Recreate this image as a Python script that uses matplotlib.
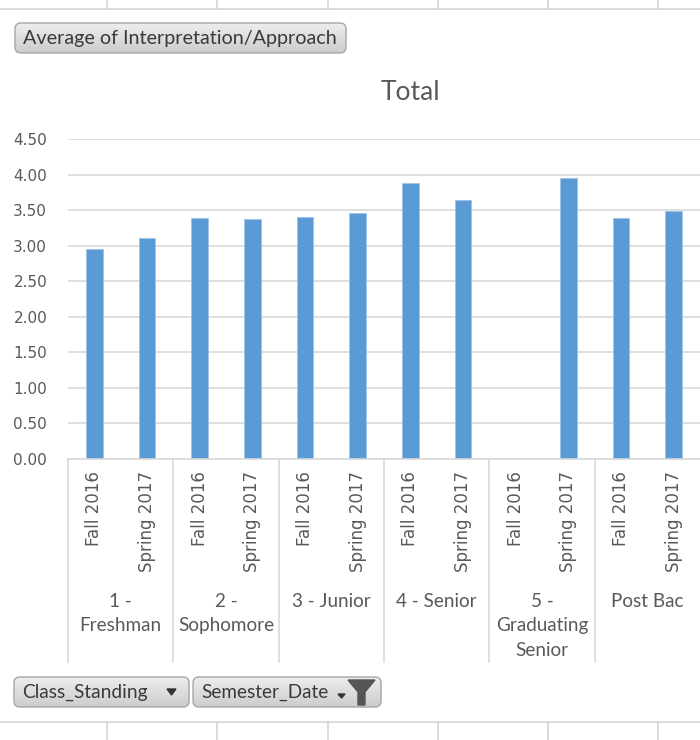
import matplotlib
matplotlib.use("Agg")
import matplotlib.pyplot as plt
import matplotlib.transforms as mtransforms
from matplotlib.patches import FancyBboxPatch, Polygon
import numpy as np

# ---------------- data ----------------
groups = ["1 -\nFreshman", "2 -\nSophomore", "3 - Junior", "4 - Senior",
          "5 -\nGraduating\nSenior", "Post Bac"]
semesters = ["Fall 2016", "Spring 2017"]
fall_2016 = [2.95, 3.39, 3.41, 3.88, None, 3.39]
spring_2017 = [3.11, 3.37, 3.46, 3.64, 3.95, 3.49]
y_ticks = [0.0, 0.5, 1.0, 1.5, 2.0, 2.5, 3.0, 3.5, 4.0, 4.5]
chart_title = "Total"
value_button = "Average of Interpretation/Approach"
field_buttons = ["Class_Standing", "Semester_Date"]

# ---------------- style ----------------
W, H = 700, 740
BAR = "#5B9BD5"
GRID = "#D9D9D9"
TXT = "#595959"
LAB = "Lato"

fig = plt.figure(figsize=(W / 100, H / 100), dpi=100)
fig.patch.set_facecolor("white")

# pixel overlay for spreadsheet decorations / buttons
ov = fig.add_axes([0, 0, 1, 1], zorder=0)
ov.set_xlim(0, W)
ov.set_ylim(H, 0)
ov.axis("off")

ax = fig.add_axes([68 / W, 1 - 459 / H, (700 - 68) / W, 320 / H], zorder=1)
ax.set_facecolor("none")

# bars
xs, labels = [], []
for gi in range(len(groups)):
    for si, series in enumerate([fall_2016, spring_2017]):
        pos = gi * 2 + si + 0.5
        xs.append(pos)
        labels.append(semesters[si])
        v = series[gi]
        if v is not None:
            ax.bar(pos, v, width=0.32, color=BAR, edgecolor="#9DC3E6",
                   linewidth=0.6, zorder=2)

ax.set_xlim(0, 2 * len(groups))
ax.set_ylim(0, 4.5)
for s in ["top", "right", "left"]:
    ax.spines[s].set_visible(False)
ax.spines["bottom"].set_color(GRID)
ax.spines["bottom"].set_linewidth(1.2)

ax.set_yticks(y_ticks)
ax.set_yticklabels([f"{v:.2f}" for v in y_ticks])
ax.yaxis.grid(True, color=GRID, linewidth=1.2)
ax.set_axisbelow(True)
ax.tick_params(axis="y", length=0, pad=15, labelsize=11, labelcolor=TXT)

ax.set_xticks(xs)
ax.set_xticklabels(labels, rotation=90)
ax.tick_params(axis="x", length=0, pad=9, labelsize=12, labelcolor=TXT)

# multi-level category axis separators and group labels
trans = mtransforms.blended_transform_factory(ax.transData, fig.transFigure)
for x in range(0, 2 * len(groups), 2):
    ax.plot([x, x], [1 - 459 / H, 1 - 662 / H], transform=trans,
            color=GRID, linewidth=1.2, clip_on=False)
for gi, g in enumerate(groups):
    ax.text(gi * 2 + 1, 1 - 593 / H, g, transform=trans, ha="center",
            va="top", fontsize=13.6, color=TXT, family=LAB, linespacing=1.52)

# title
fig.text(410 / W, 1 - 92 / H, chart_title, ha="center", va="center",
         fontsize=19, color=TXT, family=LAB)

# spreadsheet cell lines
cell_x = [107, 217, 328, 438, 548, 658]
ov.plot([0, W], [9, 9], color="#D4D4D4", lw=1.2)
ov.plot([0, W], [722, 722], color="#D4D4D4", lw=1.2)
for cx in cell_x:
    ov.plot([cx, cx], [0, 9], color="#D4D4D4", lw=1.2)
    ov.plot([cx, cx], [722, H], color="#D4D4D4", lw=1.2)

cmap = matplotlib.colors.LinearSegmentedColormap.from_list(
    "b", ["#EDEDED", "#CDCDCD"])


def button(x0, y0, x1, y1, text, size):
    patch = FancyBboxPatch((x0, y0), x1 - x0, y1 - y0,
                           boxstyle="round,pad=0,rounding_size=6",
                           facecolor="none", edgecolor="#A6A6A6", lw=1.0,
                           zorder=3)
    ov.add_patch(patch)
    grad = np.linspace(0, 1, 50).reshape(-1, 1)
    im = ov.imshow(grad, cmap=cmap, extent=(x0, x1, y1, y0),
                   aspect="auto", zorder=2)
    im.set_clip_path(patch)
    ov.text(x0 + 8, (y0 + y1) / 2 + 0.5, text, ha="left", va="center",
            fontsize=size, color="#3A3A3A", family=LAB, zorder=4)


button(15, 23, 346, 53, value_button, 14.2)
button(14, 677, 189, 707, field_buttons[0], 13.8)
button(193, 677, 381, 707, field_buttons[1], 13.6)
ov.set_xlim(0, W)
ov.set_ylim(H, 0)

# dropdown arrow
ov.add_patch(Polygon([[167, 689], [176, 689], [171.5, 695]], closed=True,
                     color="#333333", zorder=5))
# small arrow + funnel
ov.add_patch(Polygon([[338, 694], [345, 694], [341.5, 698]], closed=True,
                     color="#333333", zorder=5))
ov.add_patch(Polygon([[348, 680], [375, 680], [365, 692], [365, 705],
                      [358, 705], [358, 692]], closed=True,
                     color="#555555", zorder=5))

fig.savefig("out.png", dpi=100, facecolor="white")
